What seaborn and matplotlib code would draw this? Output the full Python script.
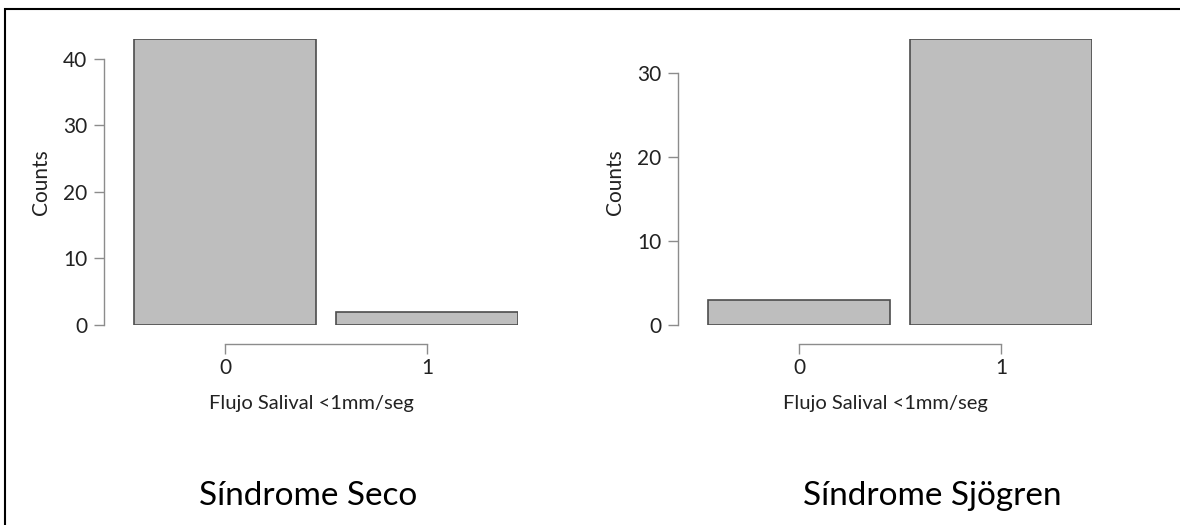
import numpy as np
import pandas as pd
import seaborn as sns
import matplotlib.pyplot as plt
from matplotlib.patches import Rectangle

# data
categorias = ["0", "1"]
conteo_seco = [43, 2]
conteo_sjogren = [3, 34]
titulos = ["Síndrome Seco", "Síndrome Sjögren"]
xlabel = "Flujo Salival <1mm/seg"
ylabel = "Counts"
yticks_seco = [0, 10, 20, 30, 40]
yticks_sjogren = [0, 10, 20, 30]

sns.set_style("ticks")
plt.rcParams['font.family'] = ['Lato', 'DejaVu Sans']

fig = plt.figure(figsize=(11.8, 5.25), dpi=100)

# outer frame of the pasted figure
fig.patches.append(Rectangle((5/1180, -0.05), 1.2, 1 - 9/525 + 0.05,
                             transform=fig.transFigure, fill=False,
                             edgecolor='black', linewidth=1.5))

paneles = [
    (conteo_seco, yticks_seco, 104, titulos[0], 308),
    (conteo_sjogren, yticks_sjogren, 678, titulos[1], 932),
]

for vals, yt, x0, titulo, tx in paneles:
    ax = fig.add_axes([x0/1180, 200/525, 414/1180, 286/525])
    df = pd.DataFrame({"cat": categorias, "n": vals})
    sns.barplot(data=df, x="cat", y="n", color="#bebebe", edgecolor="#4d4d4d",
                linewidth=1.2, width=0.9, saturation=1, ax=ax)
    ax.set_xlim(-0.6, 1.45)
    ax.set_ylim(0, max(vals))
    ax.set_yticks(yt)
    ax.set_xticks([0, 1])
    ax.set_xticklabels(categorias)
    for s in ["top", "right"]:
        ax.spines[s].set_visible(False)
    ax.spines["left"].set_bounds(yt[0], yt[-1])
    ax.spines["bottom"].set_bounds(0, 1)
    ax.spines["bottom"].set_position(("outward", 14))
    for s in ["left", "bottom"]:
        ax.spines[s].set_color("#8c8c8c")
        ax.spines[s].set_linewidth(1)
    ax.tick_params(axis="both", direction="out", length=7, width=1,
                   bottom=True, left=True,
                   color="#8c8c8c", labelsize=15, labelcolor="#222222")
    ax.tick_params(axis="x", pad=3)
    ax.tick_params(axis="y", pad=5)
    ax.set_xlabel(xlabel, fontsize=14.5, color="#222222", labelpad=12)
    ax.set_ylabel(ylabel, fontsize=15, color="#222222", labelpad=9)
    fig.text(tx/1180, 1 - 496/525, titulo, ha="center", va="center",
             fontsize=24, color="black")

plt.savefig("out.png", dpi=100)
